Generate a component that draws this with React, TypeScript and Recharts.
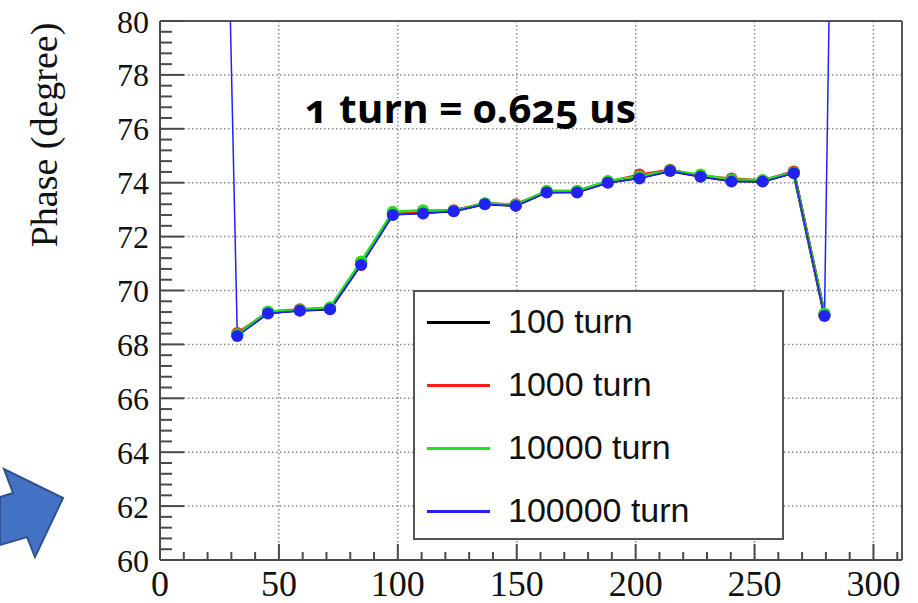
import { LineChart, Line, XAxis, YAxis, CartesianGrid, ReferenceLine, Legend } from 'recharts';

// turn index positions along the x axis
const xPos = [32.5, 45.4, 58.8, 71.5, 84.6, 97.9, 110.6, 123.5, 136.6, 149.6, 162.6, 175.4, 188.3, 201.6, 214.5, 227.3, 240.3, 253.4, 266.5, 279.4];

const phase100 = [68.36, 69.18, 69.27, 69.32, 71.0, 72.84, 72.9, 72.95, 73.22, 73.16, 73.66, 73.67, 74.02, 74.2, 74.45, 74.24, 74.08, 74.06, 74.38, 69.1];
const phase1000 = [68.42, 69.2, 69.3, 69.35, 71.05, 72.85, 72.95, 72.98, 73.22, 73.2, 73.66, 73.66, 74.04, 74.3, 74.48, 74.25, 74.16, 74.08, 74.42, 69.1];
const phase10000 = [68.38, 69.22, 69.28, 69.38, 71.08, 72.92, 72.98, 72.96, 73.24, 73.18, 73.7, 73.7, 74.06, 74.24, 74.46, 74.3, 74.12, 74.1, 74.38, 69.15];
const phase100000 = [68.31, 69.15, 69.25, 69.3, 70.95, 72.8, 72.86, 72.94, 73.2, 73.14, 73.64, 73.64, 74.0, 74.16, 74.43, 74.22, 74.04, 74.04, 74.35, 69.05];

// off-scale end points of the 100000 turn curve
const spikeX = [19.4, 292.5];
const spikeY = [121, 144.5];

const xMajor = [0, 50, 100, 150, 200, 250, 300];
const yMajor = [60, 62, 64, 66, 68, 70, 72, 74, 76, 78, 80];

const xMinor: number[] = [];
for (let v = 0; v <= 310; v += 10) xMinor.push(v);
const yMinor: number[] = [];
for (let i = 0; i <= 50; i++) yMinor.push(Math.round((60 + i * 0.4) * 10) / 10);

const toRows = (vals: number[]) => xPos.map((x, i) => ({ x, phase: vals[i] }));

const blueRows = [
  { x: spikeX[0], phase: spikeY[0] },
  ...toRows(phase100000),
  { x: spikeX[1], phase: spikeY[1] },
];

const series = [
  { name: '100 turn', color: '#000000', width: 3.2, rows: toRows(phase100) },
  { name: '1000 turn', color: '#ff1a1a', width: 2.5, rows: toRows(phase1000) },
  { name: '10000 turn', color: '#22e022', width: 2.5, rows: toRows(phase10000) },
  { name: '100000 turn', color: '#2222f5', width: 1.5, rows: blueRows },
];

const axisColor = '#4a4a4a';

function YTick(props: any) {
  const { x, y, payload } = props;
  const v = payload.value;
  const major = yMajor.includes(v);
  return (
    <g>
      <line x1={x} x2={x + (major ? 24 : 12)} y1={y} y2={y} stroke={axisColor} strokeWidth={2} />
      {major && (
        <text x={x - 11} y={y} dy="0.36em" textAnchor="end" fontFamily="Liberation Serif" fontSize={32} fill="#111">
          {v}
        </text>
      )}
    </g>
  );
}

function XTick(props: any) {
  const { x, y, payload } = props;
  const v = payload.value;
  const major = xMajor.includes(v);
  return (
    <g>
      <line x1={x} x2={x} y1={y} y2={y - (major ? 16 : 8)} stroke={axisColor} strokeWidth={2} />
      {major && (
        <text x={x} y={y + 36} textAnchor="middle" fontFamily="Liberation Serif" fontSize={36} fill="#111">
          {v}
        </text>
      )}
    </g>
  );
}

function LegendBox(props: any) {
  const { payload } = props;
  return (
    <div
      style={{
        width: 371,
        height: 250,
        boxSizing: 'border-box',
        border: '2px solid #555',
        background: '#fff',
        position: 'relative',
      }}
    >
      {payload.map((p: any, i: number) => (
        <div key={p.value} style={{ position: 'absolute', left: 0, top: 30 + i * 63, width: '100%' }}>
          <div style={{ position: 'absolute', left: 12, top: -1.5, width: 63, height: 3, background: p.color }} />
          <div
            style={{
              position: 'absolute',
              left: 93,
              top: -21,
              fontFamily: 'Liberation Sans',
              fontSize: 34,
              lineHeight: '40px',
              color: '#111',
              whiteSpace: 'nowrap',
            }}
          >
            {p.value}
          </div>
        </div>
      ))}
    </div>
  );
}

export default function App() {
  return (
    <div style={{ position: 'absolute', left: 0, top: 0, width: 918, height: 603, background: '#fff' }}>
      <LineChart width={918} height={603} margin={{ top: 21, right: 16, left: 60, bottom: 0 }}>
        <CartesianGrid
          stroke="#8a8a8a"
          strokeWidth={1.5}
          strokeDasharray="1.5 2.5"
          horizontalValues={yMajor.slice(1, -1)}
          verticalValues={xMajor.slice(1)}
        />
        <XAxis
          type="number"
          dataKey="x"
          domain={[0, 312]}
          allowDataOverflow
          ticks={xMinor}
          interval={0}
          tick={<XTick />}
          tickSize={0}
          tickMargin={0}
          tickLine={false}
          height={43}
          axisLine={{ stroke: axisColor, strokeWidth: 2 }}
        />
        <YAxis
          type="number"
          domain={[60, 80]}
          allowDataOverflow
          ticks={yMinor}
          interval={0}
          tick={<YTick />}
          tickSize={0}
          tickMargin={0}
          tickLine={false}
          width={100}
          axisLine={{ stroke: axisColor, strokeWidth: 2 }}
        />
        <ReferenceLine y={80} stroke="#555" strokeWidth={2} />
        <ReferenceLine x={312} stroke="#555" strokeWidth={2} />
        {series.map((s) => (
          <Line
            key={s.name}
            name={s.name}
            data={s.rows}
            dataKey="phase"
            type="linear"
            stroke={s.color}
            strokeWidth={s.width}
            dot={{ r: 6, fill: s.color, stroke: s.color, strokeWidth: 0 }}
            activeDot={false}
            isAnimationActive={false}
          />
        ))}
        <Legend
          layout="vertical"
          align="center"
          verticalAlign="middle"
          content={<LegendBox />}
          wrapperStyle={{ left: 413, top: 290, width: 371, height: 250 }}
        />
      </LineChart>
      <svg width={918} height={603} style={{ position: 'absolute', left: 0, top: 0, pointerEvents: 'none' }}>
        <polygon
          points="63,498 4,469 13,493 0,497 0,545 27,537 35,557"
          fill="#4472C4"
          stroke="#2F528F"
          strokeWidth={2}
          strokeLinejoin="miter"
        />
        <text
          x={305}
          y={123}
          fontFamily="Open Sans"
          fontWeight={700}
          fontSize={40}
          textLength={331}
          lengthAdjust="spacingAndGlyphs"
          style={{ fontVariantNumeric: 'oldstyle-nums' }}
          fill="#000"
        >
          1 turn = 0.625 us
        </text>
        <text
          transform="translate(57,135) rotate(-90)"
          textAnchor="middle"
          fontFamily="Liberation Serif"
          fontSize={38}
          fill="#111"
        >
          Phase (degree)
        </text>
      </svg>
    </div>
  );
}
